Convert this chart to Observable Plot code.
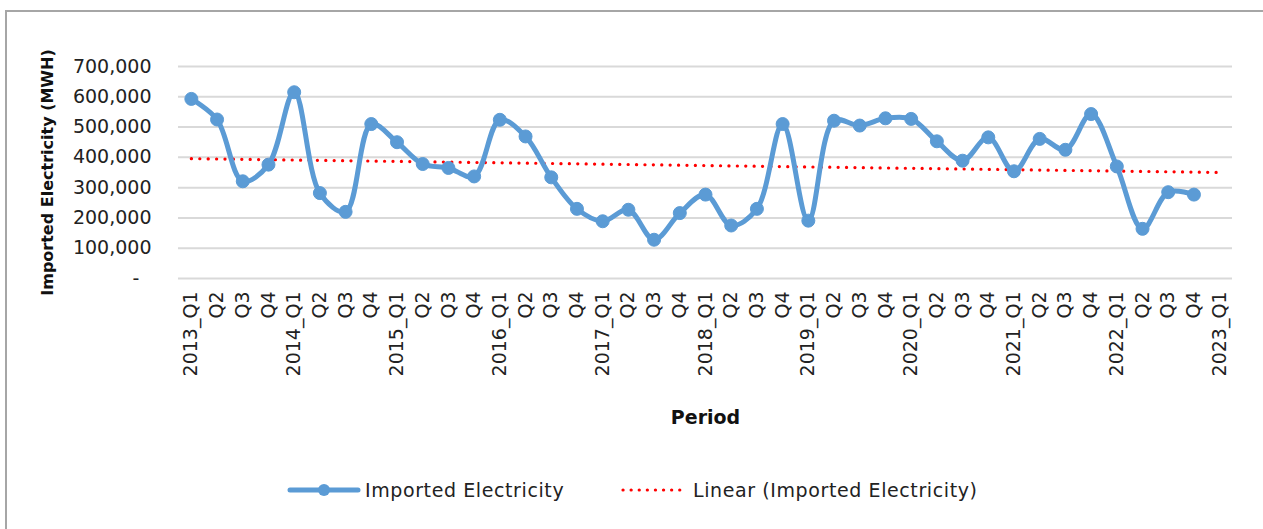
<!DOCTYPE html>
<html>
<head>
<meta charset="utf-8">
<script src="https://cdn.jsdelivr.net/npm/d3@7"></script>
<script src="https://cdn.jsdelivr.net/npm/@observablehq/plot@0.6"></script>
<style>
  html, body { margin: 0; padding: 0; background: #fff; width: 1263px; height: 529px; overflow: hidden; position: relative; font-family: "DejaVu Sans", sans-serif; }
  #frame { position: absolute; left: 5px; top: 10px; width: 1300px; height: 600px; border-left: 2px solid #a6a6a6; border-top: 2px solid #a6a6a6; box-sizing: border-box; }
  #chart { position: absolute; left: 0; top: 0; }
  #legend { position: absolute; top: 475px; left: 0; width: 1263px; height: 30px; font-size: 19px; letter-spacing: 0.6px; color: #222; }
  .item { position: absolute; top: 0; display: flex; align-items: center; height: 30px; }
  .item svg { display: block; }
  .item span { margin-left: 4px; white-space: nowrap; }
</style>
</head>
<body>
<div id="frame"></div>
<div id="chart"></div>
<div id="legend"></div>
<script>
// ---- Data ----
const periods = [
  "2013_Q1","2013_Q2","2013_Q3","2013_Q4",
  "2014_Q1","2014_Q2","2014_Q3","2014_Q4",
  "2015_Q1","2015_Q2","2015_Q3","2015_Q4",
  "2016_Q1","2016_Q2","2016_Q3","2016_Q4",
  "2017_Q1","2017_Q2","2017_Q3","2017_Q4",
  "2018_Q1","2018_Q2","2018_Q3","2018_Q4",
  "2019_Q1","2019_Q2","2019_Q3","2019_Q4",
  "2020_Q1","2020_Q2","2020_Q3","2020_Q4",
  "2021_Q1","2021_Q2","2021_Q3","2021_Q4",
  "2022_Q1","2022_Q2","2022_Q3","2022_Q4",
  "2023_Q1"
];
const tickLabels = [
  "2013_Q1","Q2","Q3","Q4",
  "2014_Q1","Q2","Q3","Q4",
  "2015_Q1","Q2","Q3","Q4",
  "2016_Q1","Q2","Q3","Q4",
  "2017_Q1","Q2","Q3","Q4",
  "2018_Q1","Q2","Q3","Q4",
  "2019_Q1","Q2","Q3","Q4",
  "2020_Q1","Q2","Q3","Q4",
  "2021_Q1","Q2","Q3","Q4",
  "2022_Q1","Q2","Q3","Q4",
  "2023_Q1"
];
const importedMWH = [
  593000, 525000, 321000, 376000,
  615000, 282000, 220000, 510000,
  450000, 378000, 365000, 337000,
  524000, 469000, 334000, 230000,
  189000, 227000, 128000, 216000,
  277000, 175000, 230000, 510000,
  191000, 521000, 505000, 529000,
  527000, 453000, 389000, 466000,
  354000, 461000, 425000, 543000,
  370000, 164000, 285000, 277000
];
const yTicks = [0, 100000, 200000, 300000, 400000, 500000, 600000, 700000];

const seriesName = "Imported Electricity";
const trendName = "Linear (Imported Electricity)";
const xTitle = "Period";
const yTitle = "Imported Electricity (MWH)";
const blue = "#5B9BD5";
const red = "#FF0000";

// ---- Table ----
const data = importedMWH.map((v, i) => ({period: periods[i], index: i, value: v}));

// Least-squares linear trend (Excel "Linear" trendline), spanning all categories
const mx = d3.mean(data, d => d.index);
const my = d3.mean(data, d => d.value);
const slope = d3.sum(data, d => (d.index - mx) * (d.value - my)) / d3.sum(data, d => (d.index - mx) ** 2);
const intercept = my - slope * mx;
const trend = [0, periods.length - 1].map(i => ({period: periods[i], value: intercept + slope * i}));

const labelOf = new Map(periods.map((p, i) => [p, tickLabels[i]]));
const fmt = d3.format(",");

const chart = Plot.plot({
  width: 1263,
  height: 460,
  marginLeft: 178,
  marginRight: 31,
  marginTop: 66,
  marginBottom: 182,
  style: {fontFamily: "DejaVu Sans, sans-serif", fontSize: "19px", color: "#222", background: "transparent"},
  x: {type: "band", domain: periods, padding: 0, round: false},
  y: {domain: [0, 700000]},
  marks: [
    Plot.gridY(yTicks, {stroke: "#d9d9d9", strokeOpacity: 1, strokeWidth: 2}),
    Plot.axisY(yTicks, {tickSize: 0, tickPadding: 27, tickFormat: d => d === 0 ? "-\u00a0\u00a0" : fmt(d), label: null}),
    Plot.axisX({tickSize: 0, tickPadding: 13, tickRotate: -90, tickFormat: d => labelOf.get(d), label: null}),
    Plot.line(trend, {x: "period", y: "value", stroke: red, strokeWidth: 3.2, strokeDasharray: "0.1 8.3", strokeLinecap: "round"}),
    Plot.line(data, {x: "period", y: "value", stroke: blue, strokeWidth: 5, curve: "catmull-rom", strokeLinejoin: "round"}),
    Plot.dot(data, {x: "period", y: "value", r: 6.5, fill: blue, stroke: blue, strokeWidth: 1}),
    Plot.text([xTitle], {frameAnchor: "bottom", dy: 145, textAnchor: "middle", fontWeight: "bold", fontSize: 19, fill: "#111", style: {letterSpacing: "0.8px"}}),
    Plot.text([yTitle], {frameAnchor: "left", dx: -131, rotate: -90, textAnchor: "middle", fontWeight: "bold", fontSize: 16, fill: "#111"})
  ]
});
document.getElementById("chart").appendChild(chart);

// ---- Legend ----
const legend = d3.select("#legend");
const item1 = legend.append("div").attr("class", "item").style("left", "287px");
const s1 = item1.append("svg").attr("width", 74).attr("height", 30);
s1.append("line").attr("x1", 3).attr("x2", 71).attr("y1", 15).attr("y2", 15)
  .attr("stroke", blue).attr("stroke-width", 5).attr("stroke-linecap", "round");
s1.append("circle").attr("cx", 37).attr("cy", 15).attr("r", 6).attr("fill", blue);
item1.append("span").text(seriesName);

const item2 = legend.append("div").attr("class", "item").style("left", "619px");
const s2 = item2.append("svg").attr("width", 70).attr("height", 30);
s2.append("line").attr("x1", 4).attr("x2", 68).attr("y1", 15).attr("y2", 15)
  .attr("stroke", red).attr("stroke-width", 3.2).attr("stroke-dasharray", "0.1 8")
  .attr("stroke-linecap", "round");
item2.append("span").text(trendName);
</script>
</body>
</html>
